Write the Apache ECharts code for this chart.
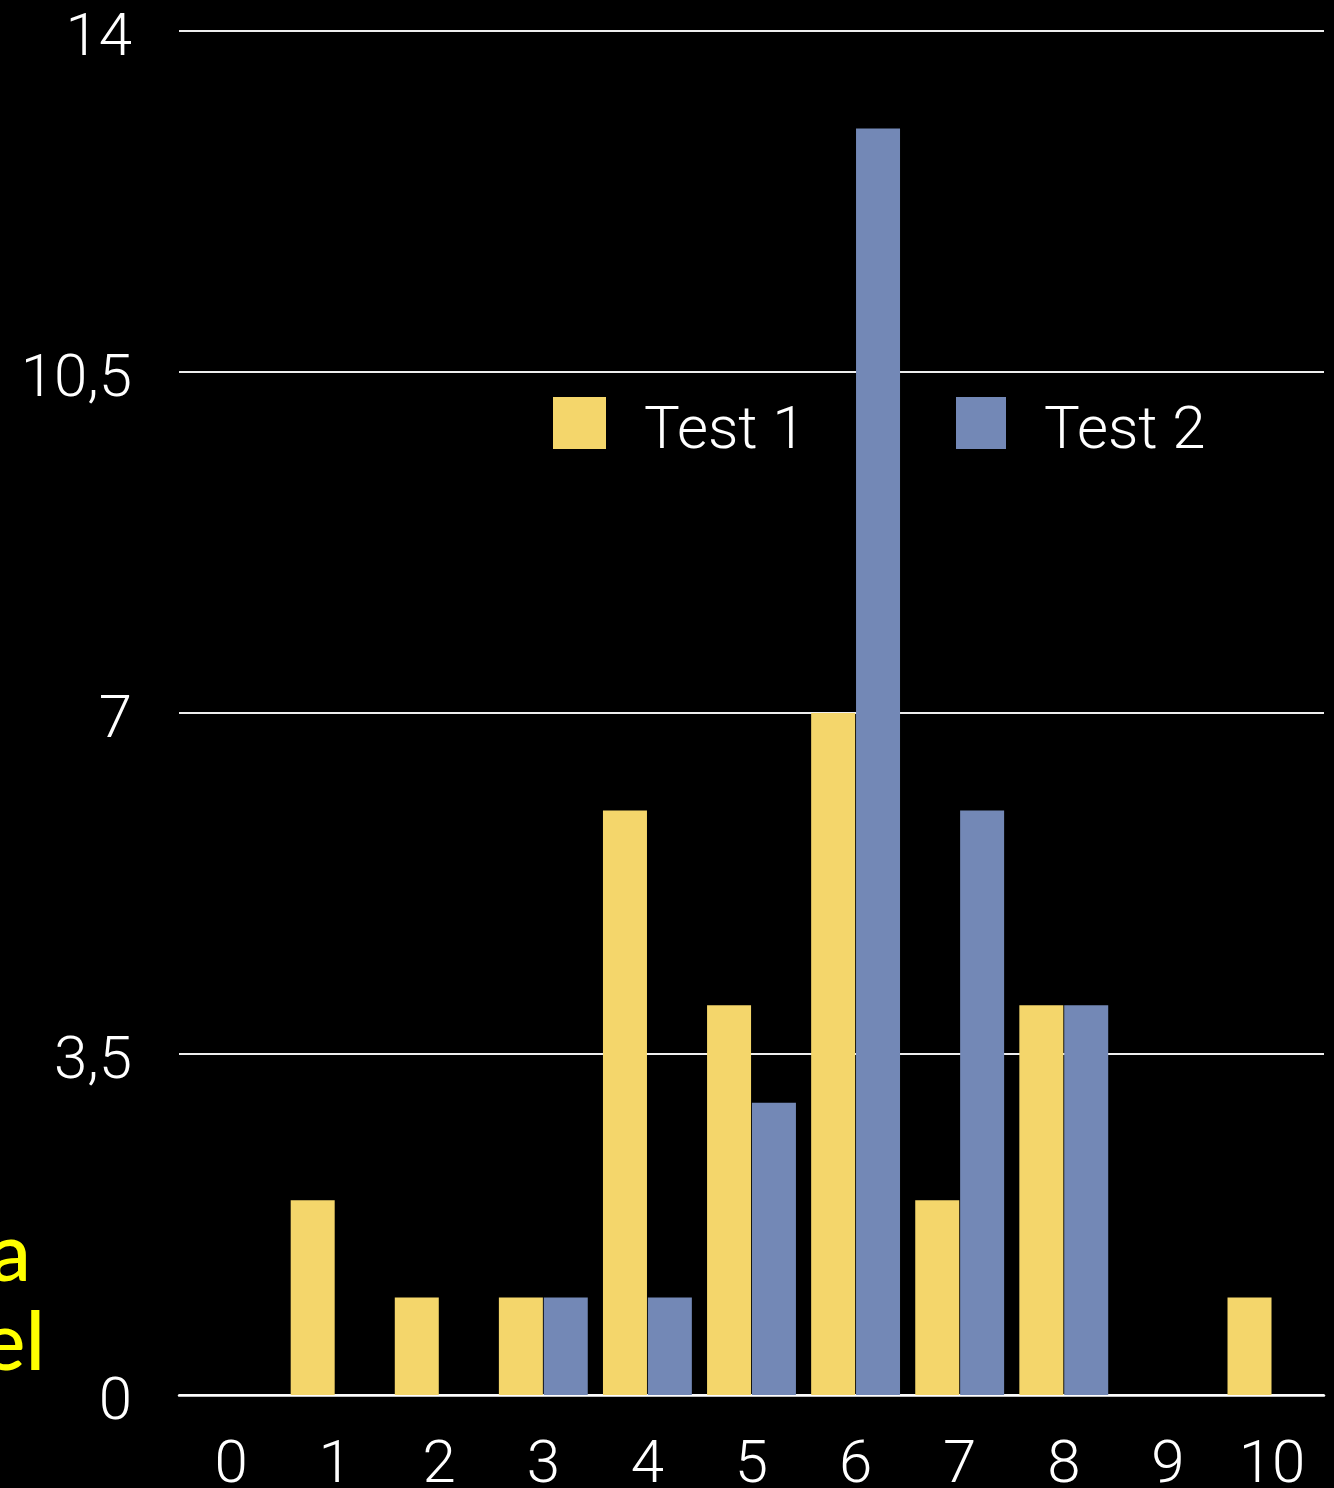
<!DOCTYPE html>
<html>
<head>
<meta charset="utf-8">
<script src="https://cdn.jsdelivr.net/npm/echarts@6/dist/echarts.min.js"></script>
<style>
  html, body { margin: 0; padding: 0; background: #000; }
  #chart { width: 1334px; height: 1488px; }
</style>
</head>
<body>
<div id="chart"></div>
<script>
// Score categories along the x axis
const categories = ['0', '1', '2', '3', '4', '5', '6', '7', '8', '9', '10'];
// Counts per score for each test
const test1 = [0, 2, 1, 1, 6, 4, 7, 2, 4, 0, 1];
const test2 = [0, 0, 0, 1, 1, 3, 13, 6, 4, 0, 0];
// Value axis ticks
const yTicks = [0, 3.5, 7, 10.5, 14];
const seriesNames = ['Test 1', 'Test 2'];
const sideLabels = ['a', 'el'];

const YELLOW = '#F4D66B';
const BLUE = '#7388B6';
const FONT = "Roboto, 'Open Sans', 'Liberation Sans', sans-serif";

const chart = echarts.init(document.getElementById('chart'), null, { renderer: 'canvas' });

// decimal comma for tick labels, nudged a little below the grid line
const fmt = v => '{v|' + String(v).replace('.', ',') + '}';

const baseText = { color: '#ffffff', fontSize: 60, fontFamily: FONT, fontWeight: 300 };

const legendText = {
  rich: { t: Object.assign({}, baseText, { padding: [20, 0, 0, 33] }) }
};

chart.setOption({
  backgroundColor: '#000000',
  animation: false,
  grid: { left: 179, right: 10, top: 31, bottom: 93, containLabel: false, outerBoundsMode: 'none' },
  legend: [
    {
      data: [seriesNames[0]],
      left: 548, top: 392, padding: 5,
      icon: 'rect', itemWidth: 53, itemHeight: 52,
      formatter: '{t|{name}}',
      textStyle: legendText
    },
    {
      data: [seriesNames[1]],
      left: 951, top: 392, padding: 5,
      icon: 'rect', itemWidth: 50, itemHeight: 52,
      formatter: '{t|{name}}',
      textStyle: legendText
    }
  ],
  xAxis: {
    type: 'category',
    data: categories,
    axisLine: { show: true, lineStyle: { color: '#ffffff', width: 2.5 } },
    axisTick: { show: false },
    axisLabel: Object.assign({}, baseText, { margin: 42 })
  },
  yAxis: {
    type: 'value',
    min: yTicks[0],
    max: yTicks[yTicks.length - 1],
    interval: yTicks[1] - yTicks[0],
    axisLine: { show: false },
    axisTick: { show: false },
    splitLine: { lineStyle: { color: '#eeeeee', width: 2 } },
    axisLabel: {
      margin: 47,
      formatter: fmt,
      rich: { v: Object.assign({}, baseText, { padding: [17, 0, 0, 0] }) }
    }
  },
  series: [
    {
      name: seriesNames[0], type: 'bar', data: test1,
      barWidth: 44, barGap: '2%',
      itemStyle: { color: YELLOW, borderWidth: 0 }
    },
    {
      name: seriesNames[1], type: 'bar', data: test2,
      barWidth: 44, barGap: '2%',
      itemStyle: { color: BLUE, borderWidth: 0 }
    }
  ],
  graphic: [
    {
      type: 'text', right: 1334 - 31, top: 1214,
      style: { text: sideLabels[0], fill: '#FFFF00', font: "500 82px Lato, 'Noto Sans', sans-serif", textAlign: 'right' }
    },
    {
      type: 'text', right: 1334 - 45, top: 1303,
      style: { text: sideLabels[1], fill: '#FFFF00', font: "500 82px Lato, 'Noto Sans', sans-serif", textAlign: 'right' }
    }
  ]
});
</script>
</body>
</html>
